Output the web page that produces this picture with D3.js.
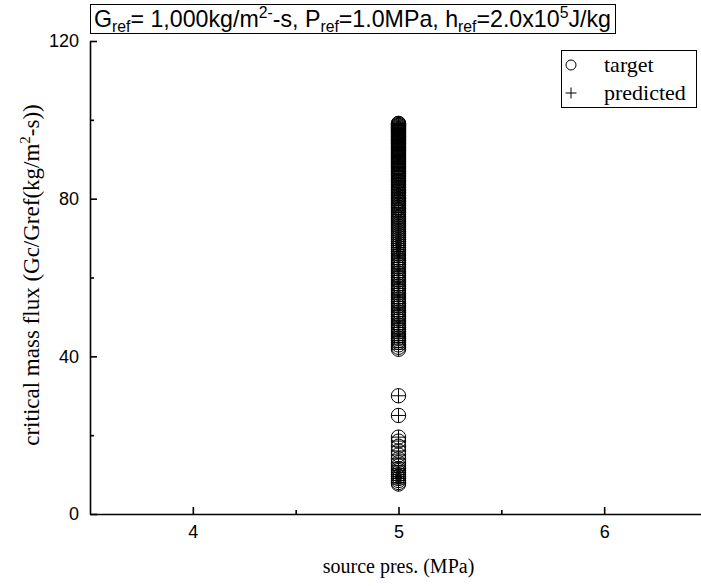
<!DOCTYPE html>
<html><head><meta charset="utf-8">
<script src="https://cdn.jsdelivr.net/npm/d3@7"></script>
<style>body{margin:0;background:#fff}svg{display:block}</style>
</head><body>
<svg id="c" width="701" height="586"></svg>
<script>
// ---- data ----
const pressure = 5.0; // all samples at source pressure 5 MPa
const targetValues = [
  7.6, 8.0, 8.5, 9.0, 9.5, 10.0, 10.5, 11.0, 11.5, 12.2, 13.0, 14.0, 15.0, 16.0, 17.2, 18.5, 19.5, 25.0, 30.0,
  41.8, 42.3, 42.9, 43.5, 44.0, 44.6, 45.1, 45.7, 46.2, 46.8, 47.3, 47.9, 48.4, 49.0, 49.5, 50.1, 50.6, 51.2,
  51.7, 52.3, 52.8, 53.4, 53.9, 54.5, 55.0, 55.6, 56.1, 56.7, 57.2, 57.8, 58.3, 58.9, 59.4, 60.0, 60.5, 61.1,
  61.6, 62.2, 62.7, 63.3, 63.8, 64.4, 64.9, 65.5, 66.0, 66.6, 67.1, 67.6, 68.1, 68.6, 69.1, 69.6, 70.1, 70.6,
  71.1, 71.6, 72.1, 72.6, 73.1, 73.6, 74.1, 74.6, 75.1, 75.5, 76.0, 76.5, 76.9, 77.4, 77.8, 78.3, 78.7, 79.2,
  79.6, 80.0, 80.4, 80.8, 81.2, 81.6, 82.0, 82.4, 82.8, 83.2, 83.6, 84.0, 84.4, 84.7, 85.1, 85.5, 85.8, 86.2,
  86.5, 86.9, 87.2, 87.6, 87.9, 88.2, 88.6, 88.9, 89.2, 89.5, 89.8, 90.1, 90.4, 90.7, 91.0, 91.3, 91.6, 91.9,
  92.2, 92.5, 92.8, 93.0, 93.3, 93.6, 93.9, 94.1, 94.4, 94.7, 94.9, 95.2, 95.4, 95.7, 95.9, 96.2, 96.4, 96.7,
  96.9, 97.1, 97.4, 97.6, 97.8, 98.0, 98.2, 98.4, 98.6, 98.8, 99.0, 99.1
];
const predictedValues = targetValues.slice();
const xMajorTicks = [4, 5, 6];
const xMinorTicks = [4.5, 5.5];
const yMajorTicks = [0, 40, 80, 120];
const yMinorTicks = [20, 60, 100];
const xDomain = [3.5, 6.5];
const yDomain = [0, 120];
const legendLabels = ["target", "predicted"];

// ---- layout ----
const svg = d3.select("#c");
const L = 90, B = 514, T = 41, R = 707;
const x = d3.scaleLinear().domain(xDomain).range([L, R]);
const y = d3.scaleLinear().domain(yDomain).range([B, T]);
const sans = "Arial, 'Liberation Sans', sans-serif";
const serif = "'Times New Roman', 'Liberation Serif', serif";

function styleAxis(g){
  g.select(".domain").attr("stroke","#000").attr("stroke-width",1.6);
  g.selectAll(".tick line").attr("stroke","#000").attr("stroke-width",1.6);
  g.selectAll("text").attr("font-family",sans).attr("font-size",18).attr("fill","#000");
}
// x axis
const gx = svg.append("g").attr("transform",`translate(0,${B})`)
  .call(d3.axisBottom(x).tickValues(xMajorTicks).tickFormat(d3.format("d")).tickSizeInner(-7).tickSizeOuter(0).tickPadding(11));
styleAxis(gx);
const gx2 = svg.append("g").attr("transform",`translate(0,${B})`)
  .call(d3.axisBottom(x).tickValues(xMinorTicks).tickFormat("").tickSizeInner(-4).tickSizeOuter(0));
styleAxis(gx2); gx2.select(".domain").remove();
// y axis
const gy = svg.append("g").attr("transform",`translate(${L},0)`)
  .call(d3.axisLeft(y).tickValues(yMajorTicks).tickFormat(d3.format("d")).tickSizeInner(-7).tickSizeOuter(0).tickPadding(11));
styleAxis(gy);
const gy2 = svg.append("g").attr("transform",`translate(${L},0)`)
  .call(d3.axisLeft(y).tickValues(yMinorTicks).tickFormat("").tickSizeInner(-4).tickSizeOuter(0));
styleAxis(gy2); gy2.select(".domain").remove();

// axis titles
svg.append("text").attr("x", x(5)).attr("y", 573).attr("text-anchor","middle")
  .attr("font-family",serif).attr("font-size",20).text("source pres. (MPa)");
const yt = svg.append("text").attr("transform",`translate(39,275) rotate(-90)`)
  .attr("text-anchor","middle").attr("font-family",serif).attr("font-size",23);
yt.append("tspan").text("critical mass flux (Gc/Gref(kg/m");
yt.append("tspan").attr("font-size",15).attr("dy",-9).text("2");
yt.append("tspan").attr("dy",9).text("-s))");

// points
const crossType = {draw(ctx, size){ const r = Math.sqrt(size)/2; ctx.moveTo(-r,0); ctx.lineTo(r,0); ctx.moveTo(0,-r); ctx.lineTo(0,r);} };
const gp = svg.append("g");
gp.selectAll("circle.t").data(targetValues).join("circle").attr("class","t")
  .attr("cx", x(pressure)).attr("cy", d => y(d)).attr("r", 7.2)
  .attr("fill","none").attr("stroke","#000").attr("stroke-width",1);
gp.selectAll("path.p").data(predictedValues).join("path").attr("class","p")
  .attr("transform", d => `translate(${x(pressure)},${y(d)})`)
  .attr("d", d3.symbol().type(crossType).size(14.4*14.4))
  .attr("fill","none").attr("stroke","#000").attr("stroke-width",1);

// title box
const tb = svg.append("g");
tb.append("rect").attr("x",90.5).attr("y",4.5).attr("width",525).attr("height",29)
  .attr("fill","#fff").attr("stroke","#000").attr("stroke-width",1);
const tt = tb.append("text").attr("x",94).attr("y",27).attr("font-family",sans).attr("font-size",22);
function seg(t, rel, dy){ const s = tt.append("tspan").text(t); if(rel) s.attr("font-size", rel+"em"); if(dy) s.attr("dy",dy); return s; }
seg("G"); seg("ref",0.68,5); seg("= 1,000kg/m",null,-5); seg("2-",0.68,-9); seg("-s, P",null,9);
seg("ref",0.68,5); seg("=1.0MPa, h",null,-5); seg("ref",0.68,5); seg("=2.0x10",null,-5); seg("5",0.68,-9); seg("J/kg",null,9);
// fit title text width to the box
const tw = tt.node().getComputedTextLength();
tt.attr("font-size", 22 * 517 / tw);

// legend
const lg = svg.append("g");
lg.append("rect").attr("x",561.5).attr("y",50.5).attr("width",135).attr("height",57)
  .attr("fill","#fff").attr("stroke","#000").attr("stroke-width",1);
const rows = [{label:legendLabels[0], kind:"circle", yy:65}, {label:legendLabels[1], kind:"cross", yy:93}];
rows.forEach(r => {
  if (r.kind === "circle") lg.append("circle").attr("cx",571).attr("cy",r.yy).attr("r",5).attr("fill","none").attr("stroke","#000").attr("stroke-width",1);
  else lg.append("path").attr("transform",`translate(571,${r.yy})`).attr("d", d3.symbol().type(crossType).size(121)).attr("stroke","#000").attr("stroke-width",1);
  lg.append("text").attr("x",604).attr("y",r.yy+7).attr("font-family",serif).attr("font-size",22).text(r.label);
});
</script>
</body></html>
